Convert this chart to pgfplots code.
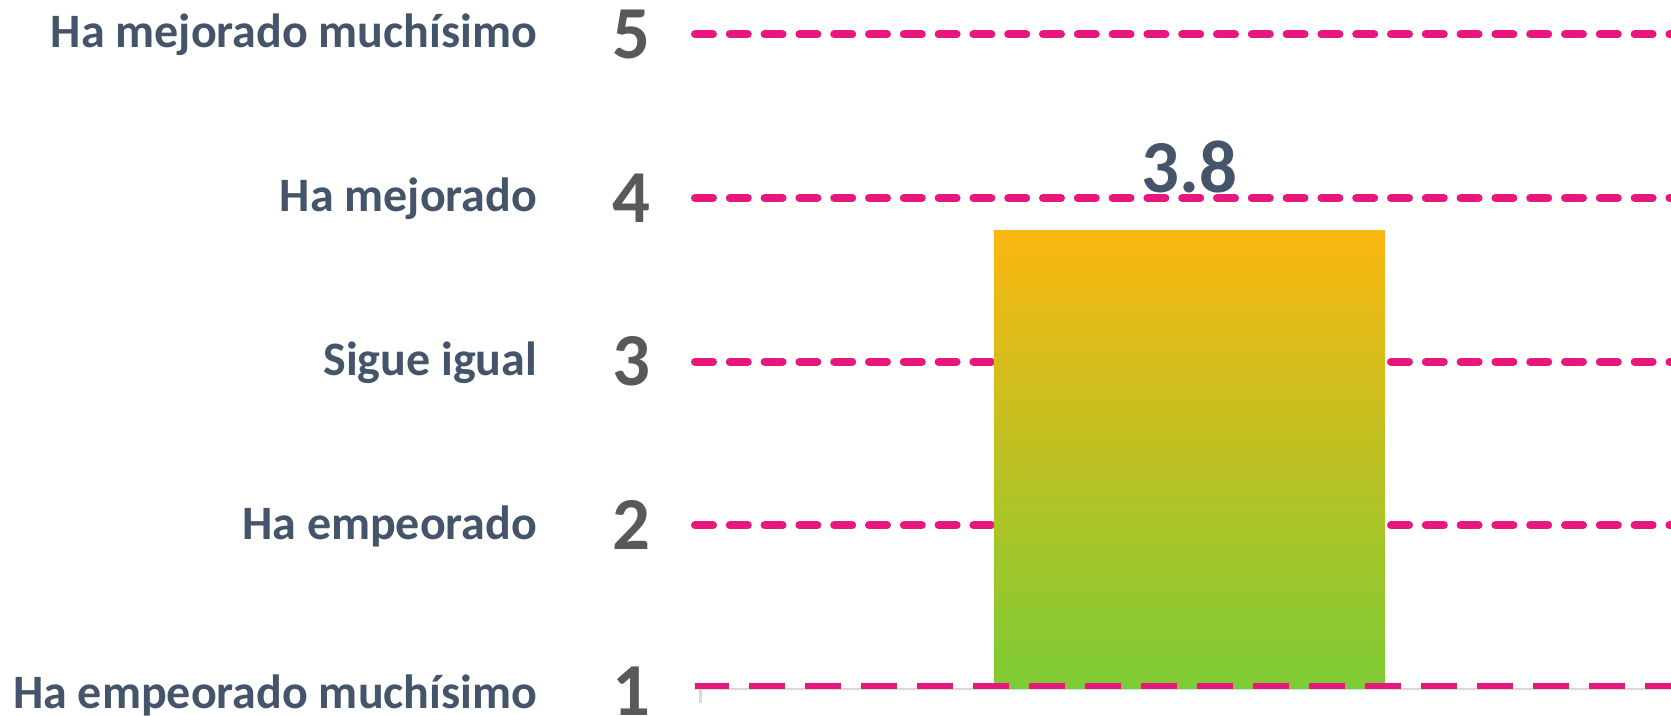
\documentclass[border=0pt]{standalone}
\usepackage{fontspec}
\setmainfont{Carlito}
\usepackage{pgfplots}
\pgfplotsset{compat=1.18}

\definecolor{labc}{HTML}{44546A}
\definecolor{numc}{HTML}{595959}
\definecolor{pinkc}{HTML}{E8177D}
\definecolor{barTop}{HTML}{FBB711}
\definecolor{barBot}{HTML}{7DCB35}
\definecolor{axgray}{HTML}{D9D9D9}

% tick label: category text on the left, big score digit next to the axis
\newcommand{\yl}[3][2.6pt]{%
  \makebox[0pt][r]{\smash{\raisebox{#1}{\fontsize{12}{14}\selectfont\bfseries\color{labc}#2}}}%
  \hspace{18.65pt}%
  \makebox[10pt][c]{\fontsize{18.7}{20}\selectfont\bfseries\color{numc}#3}}

\begin{document}
\begin{tikzpicture}
\begin{axis}[
    scale only axis,
    width=244pt,
    height=163.65pt,
    xmin=0, xmax=1.9737,
    ymin=1, ymax=5,
    axis x line*=bottom,
    axis y line*=left,
    x axis line style={-, draw=axgray, line width=0.6pt},
    y axis line style={draw=none},
    xtick={0.0115},
    xticklabels={},
    xtick align=outside,
    ytick align=inside,
    major tick length=3.5pt,
    xtick style={draw=axgray, line width=0.6pt},
    ytick style={draw=none},
    ytick={2,3,4,5},
    yticklabels={\yl{Ha empeorado}{2}, \yl{Sigue igual}{3}, \yl{Ha mejorado}{4}, \yl{Ha mejorado muchísimo}{5}},
    extra y ticks={1},
    extra y tick labels={\yl[1.8pt]{Ha empeorado muchísimo}{1}},
    extra y tick style={major grid style={draw=none}, yticklabel style={yshift=-0.6pt}},
    yticklabel style={anchor=east, inner sep=0pt, xshift=-10.6pt},
    ymajorgrids,
    major grid style={draw=pinkc, line width=2pt, line cap=round, dash pattern=on 4.5pt off 4.2pt},
    /pgf/number format/assume math mode=true,
    /pgf/number format/fixed,
    /pgf/number format/precision=1,
]
% bar, gradient from green (bottom) to amber (top)
\addplot[ybar, bar width=97.75pt, draw=none, top color=barTop, bottom color=barBot,
    nodes near coords,
    every node near coord/.append style={anchor=south, inner sep=0pt, yshift=9.25pt,
        font=\fontsize{18.7}{20}\selectfont\bfseries, text=labc}]
    coordinates {(1,3.8)};

% dashed line at the lowest level, drawn over the bar
\draw[pinkc, line width=2pt, dash pattern=on 9pt off 5pt]
    (rel axis cs:0,0) ++(-0.5pt,0.4pt) -- ([yshift=0.4pt]rel axis cs:1,0);
\end{axis}
\pgfresetboundingbox
\useasboundingbox (-173.75pt,-6.75pt) rectangle (244pt,172.25pt);
\end{tikzpicture}
\end{document}
